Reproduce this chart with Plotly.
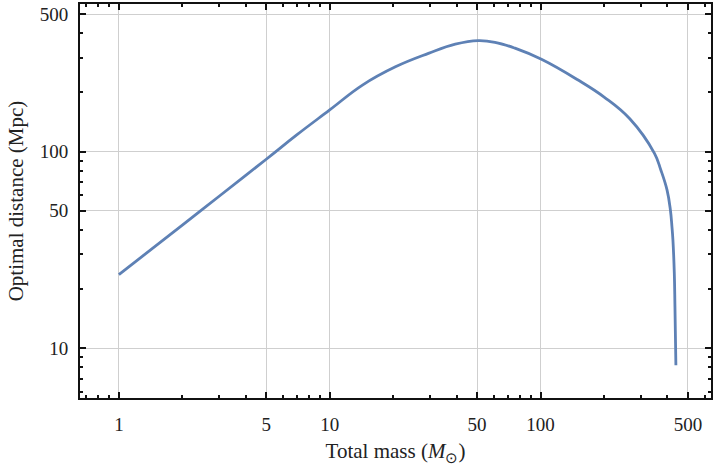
import plotly.graph_objects as go

# Data
mass = [1, 2, 3, 5, 7, 10, 14.3, 20.5, 29.4, 39.4, 50.7, 60.8, 75.6, 101, 150,
        201, 265, 347, 372, 398, 413, 420, 424.5, 431, 434, 438.5]
distance = [23.7, 42.3, 59.5, 91.5, 122, 163, 218, 270, 316, 352, 367, 360, 336,
            295, 232, 189, 147, 98, 80.7, 63.9, 50.5, 41.6, 35.6,
            24.1, 16.3, 8.2]

x_major = [1, 5, 10, 50, 100, 500]
x_major_text = ["1", "5", "10", "50", "100", "500"]
x_minor = [0.7, 0.8, 0.9, 2, 3, 4, 6, 7, 8, 9, 20, 30, 40, 60, 70, 80, 90,
           200, 300, 400, 600]
y_major = [10, 50, 100, 500]
y_major_text = ["10", "50", "100", "500"]
y_minor = [6, 7, 8, 9, 20, 30, 40, 60, 70, 80, 90, 200, 300, 400]

line_color = "#5E81B5"
font_family = "Liberation Serif, Times New Roman, serif"
tick_size = 19
title_size = 21

fig = go.Figure()
fig.add_trace(go.Scatter(
    x=mass, y=distance, mode="lines",
    line=dict(color=line_color, width=2.8, shape="spline", smoothing=1.2),
    hoverinfo="skip", showlegend=False,
))

axis_common = dict(
    type="log",
    showline=True, linecolor="#111", linewidth=2, mirror="ticks",
    ticks="inside", ticklen=6, tickwidth=2, tickcolor="#111",
    showgrid=True, gridcolor="#cfcfcf", gridwidth=1,
    zeroline=False,
    tickfont=dict(family=font_family, size=tick_size, color="#222"),
)

fig.update_layout(
    width=715, height=473,
    margin=dict(l=80, r=2, t=4, b=75),
    paper_bgcolor="white", plot_bgcolor="white",
    font=dict(family=font_family, size=tick_size, color="#222"),
    xaxis=dict(
        **axis_common,
        range=[-0.1844, 2.8085],
        tickmode="array", tickvals=x_major, ticktext=x_major_text,
        ticklabelstandoff=8,
        minor=dict(tickmode="array", tickvals=x_minor, ticks="inside",
                   ticklen=3, tickwidth=1.5, tickcolor="#111", showgrid=False),
        title=dict(text="Total mass (<i>M</i><sub>⊙</sub>)",
                   font=dict(family=font_family, size=title_size, color="#222"),
                   standoff=10),
    ),
    yaxis=dict(
        **axis_common,
        range=[0.747, 2.751],
        tickmode="array", tickvals=y_major, ticktext=y_major_text,
        ticklabelstandoff=6,
        minor=dict(tickmode="array", tickvals=y_minor, ticks="inside",
                   ticklen=3, tickwidth=1.5, tickcolor="#111", showgrid=False),
        title=dict(text="Optimal distance (Mpc)",
                   font=dict(family=font_family, size=title_size, color="#222"),
                   standoff=10),
    ),
)

fig.write_html("out.html")
